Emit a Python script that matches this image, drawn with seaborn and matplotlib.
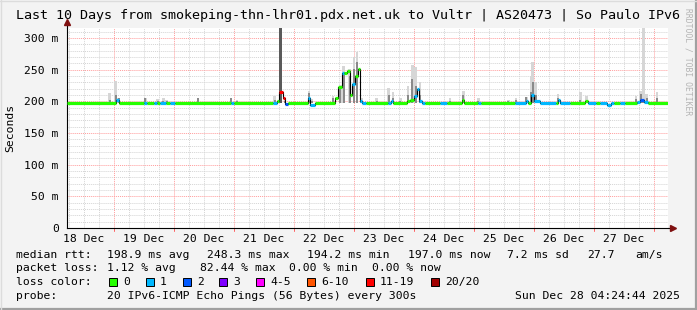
import numpy as np
import pandas as pd
import matplotlib
matplotlib.use("Agg")
import matplotlib.pyplot as plt
import matplotlib.transforms as mtransforms
from matplotlib.patches import Rectangle
from matplotlib.lines import Line2D
import seaborn as sns

# ---------------- data ----------------
title = "Last 10 Days from smokeping-thn-lhr01.pdx.net.uk to Vultr | AS20473 | So Paulo IPv6"
start_day, end_day = 18.217, 28.233          # time axis in "day of December"
day_labels = ["18 Dec", "19 Dec", "20 Dec", "21 Dec", "22 Dec",
              "23 Dec", "24 Dec", "25 Dec", "26 Dec", "27 Dec"]
label_days = [18.5, 19.5, 20.5, 21.5, 22.5, 23.5, 24.5, 25.5, 26.5, 27.5]
y_ticks = [0, 50, 100, 150, 200, 250, 300]
y_labels = ["0", "50 m", "100 m", "150 m", "200 m", "250 m", "300 m"]
base_rtt = 198

# smoke columns: time, max of pings (ms), upper-quartile-ish (ms)
smoke_t = [18.93, 19.03, 19.08, 19.52, 19.73, 19.82, 19.88, 20.40, 20.95, 21.05,
           21.68, 21.77, 21.85, 22.25, 22.30, 22.65, 22.77, 22.83, 22.93, 23.00,
           23.05, 23.12, 23.38, 23.58, 23.65, 23.77, 23.90, 23.97, 24.03, 24.10,
           24.60, 24.82, 25.07, 25.57, 25.70, 25.87, 25.95, 25.98, 26.03, 26.40,
           26.77, 26.87, 27.70, 27.78, 27.82, 27.88, 28.05]
smoke_hi = [214, 233, 205, 206, 204, 205, 203, 206, 206, 203,
            209, 316, 206, 216, 204, 209, 226, 256, 252, 270,
            278, 206, 206, 221, 215, 206, 225, 258, 255, 230,
            206, 216, 205, 203, 206, 207, 240, 262, 230, 212,
            215, 208, 209, 216, 316, 212, 215]
smoke_mid = [203, 210, 205, 206, 200, 200, 200, 206, 206, 200,
             203, 316, 200, 214, 200, 205, 220, 247, 240, 252,
             262, 200, 200, 210, 205, 200, 210, 235, 225, 210,
             200, 210, 200, 200, 202, 207, 215, 230, 210, 206,
             202, 200, 204, 212, 200, 206, 205]

# median rtt: step start time, value (ms), loss category index
med_t = [18.217, 19.03, 19.08, 19.50, 19.55, 19.67, 19.72, 19.77, 19.87, 19.93,
         20.02, 20.95, 21.00, 21.65, 21.72, 21.75, 21.82, 21.85, 21.90, 22.23,
         22.27, 22.35, 22.68, 22.73, 22.80, 22.83, 22.88, 22.93, 22.97, 23.02,
         23.07, 23.10, 23.13, 23.20, 23.57, 23.62, 23.65, 23.88, 23.93, 24.00,
         24.05, 24.08, 24.13, 24.18, 24.43, 24.55, 24.80, 24.83, 25.07, 25.12,
         25.68, 25.87, 25.90, 25.95, 26.00, 26.10, 26.37, 26.40, 26.43, 26.60,
         26.85, 26.90, 27.03, 27.10, 27.22, 27.28, 27.33, 27.43, 27.52, 27.72,
         27.77, 27.83, 27.90]
med_v = [198, 203, 198, 198, 198, 198, 198, 198, 198, 198,
         198, 198, 198, 198, 200, 215, 205, 196, 198, 205,
         195, 198, 205, 222, 245, 245, 248, 210, 228, 240,
         252, 200, 198, 198, 198, 201, 198, 200, 203, 208,
         219, 200, 198, 198, 198, 198, 203, 198, 198, 198,
         198, 201, 198, 210, 200, 198, 198, 203, 198, 198,
         200, 198, 198, 198, 194, 198, 198, 198, 198, 199,
         202, 199, 198]
med_loss = [0, 1, 0, 1, 0, 1, 0, 1, 0, 1,
            0, 1, 0, 1, 0, 6, 6, 2, 0, 1,
            1, 0, 0, 0, 1, 0, 0, 0, 1, 0,
            0, 1, 1, 0, 1, 1, 0, 0, 0, 1,
            1, 1, 1, 0, 1, 0, 0, 0, 1, 0,
            1, 1, 0, 1, 1, 1, 0, 1, 1, 0,
            0, 1, 0, 1, 1, 1, 0, 1, 0, 1,
            2, 1, 0]

loss_labels = ["0", "1", "2", "3", "4-5", "6-10", "11-19", "20/20"]
loss_colors = ["#26ff00", "#00b8ff", "#0059ff", "#7e00ff",
               "#ff00ff", "#ff5500", "#ff0000", "#a10000"]

rtt_row = ["median rtt:", "198.9 ms avg", "248.3 ms max", "194.2 ms min",
           "197.0 ms now", "7.2 ms sd", "27.7", "am/s"]
loss_row = ["packet loss:", "1.12 % avg", "82.44 % max", "0.00 % min", "0.00 % now"]
probe_row = ["probe:", "20 IPv6-ICMP Echo Pings (56 Bytes) every 300s"]
stamp = "Sun Dec 28 04:24:44 2025"

# ---------------- style ----------------
W, H = 697, 310
sns.set_theme(style="white")
plt.rcParams["font.family"] = ["DejaVu Sans Mono", "DejaVu Sans"]
BG = "#f3f3f3"
FS = 8.2

fig = plt.figure(figsize=(W / 100, H / 100), dpi=100, facecolor=BG)

def fx(x):
    return x / W

def fy(y):
    return 1 - y / H

# frame shading of the png
fig.add_artist(Line2D([fx(696), fx(696)], [0, 1], color="#a0a0a0", lw=1.6))
fig.add_artist(Line2D([0, 1], [fy(309), fy(309)], color="#a0a0a0", lw=1.6))
fig.add_artist(Line2D([0, 1], [fy(0.5), fy(0.5)], color="#dcdcdc", lw=1.0))
fig.add_artist(Line2D([fx(0.5), fx(0.5)], [0, 1], color="#dcdcdc", lw=1.0))

ax = fig.add_axes([fx(67), fy(228), (668 - 67) / W, 200 / H])
ax.set_facecolor("white")
ax.set_xlim(start_day, end_day)
ax.set_ylim(0, 316)

# grid
minor_x = np.arange(18.25, end_day, 0.25)
for d in minor_x:
    if abs(d - round(d)) > 1e-6:
        ax.axvline(d, color="#d4d4d4", lw=0.7, ls=(0, (1, 1)), zorder=0)
for v in range(10, 316, 10):
    if v % 50:
        ax.axhline(v, color="#d4d4d4", lw=0.7, ls=(0, (1, 1)), zorder=0)
for d in range(19, 29):
    ax.axvline(d, color="#ff9c9c", lw=0.7, ls=(0, (1, 1)), zorder=0.5)
for v in range(50, 316, 50):
    ax.axhline(v, color="#ff9c9c", lw=0.7, ls=(0, (1, 1)), zorder=0.5)

# smoke
smoke = pd.DataFrame({"t": smoke_t, "hi": smoke_hi, "mid": smoke_mid})
ax.bar(smoke["t"], smoke["hi"] - base_rtt, bottom=base_rtt, width=0.045,
       color="#d6d6d6", linewidth=0, zorder=1)
ax.bar(smoke["t"], smoke["mid"] - base_rtt, bottom=base_rtt, width=0.035,
       color="#8a8a8a", linewidth=0, zorder=1.2)
big = smoke[smoke["mid"] >= 300]
ax.bar(big["t"], big["mid"] - base_rtt, bottom=base_rtt, width=0.05,
       color="#5a5a5a", linewidth=0, zorder=1.3)

# median rtt line
med = pd.DataFrame({"t": med_t + [end_day], "v": med_v + [med_v[-1]]})
sns.lineplot(data=med, x="t", y="v", drawstyle="steps-post", color="black",
             lw=0.8, ax=ax, zorder=2, legend=False)
t_next = med_t[1:] + [end_day]
ax.hlines(med_v, med_t, t_next, colors=[loss_colors[i] for i in med_loss],
          lw=2.3, zorder=3)
ax.set_xlabel("")
ax.set_ylabel("")

# axes, ticks
for s in ["top", "right"]:
    ax.spines[s].set_visible(False)
for s in ["left", "bottom"]:
    ax.spines[s].set_color("black")
    ax.spines[s].set_linewidth(0.8)
ax.set_yticks(y_ticks)
ax.set_yticklabels(y_labels, fontsize=FS)
ax.set_xticks(label_days)
ax.set_xticklabels(day_labels, fontsize=FS)
ax.tick_params(axis="x", length=0, pad=4, colors="black")
ax.tick_params(axis="y", length=3, width=0.7, pad=3, colors="black", direction="out")
ax.tick_params(axis="both", labelcolor="black")

trans = mtransforms.blended_transform_factory(ax.transData, ax.transAxes)
for d in range(19, 29):
    ax.add_line(Line2D([d, d], [0, -0.015], transform=trans, color="#ff6060",
                       lw=0.7, clip_on=False))
# arrows
ax.add_line(Line2D([0, 0], [1.0, 1.03], transform=ax.transAxes, color="black",
                   lw=0.8, clip_on=False))
ax.add_line(Line2D([1.0, 1.008], [0, 0], transform=ax.transAxes, color="black",
                   lw=0.8, clip_on=False))
ax.plot([0], [1.03], marker="^", ms=5, color="#7f1010", transform=ax.transAxes,
        clip_on=False)
ax.plot([1.008], [0], marker=">", ms=5, color="#7f1010", transform=ax.transAxes,
        clip_on=False)

# texts
fig.text(0.5, fy(16), title, ha="center", va="center", fontsize=9.6, color="black")
fig.text(fx(10), fy(128), "Seconds", rotation=90, ha="center", va="center",
         fontsize=FS, color="black")
fig.text(fx(688), fy(62), "RRDTOOL / TOBI OETIKER", rotation=270, ha="center",
         va="center", fontsize=5.8, color="#b4b4b4")

for x, s in zip([16, 107, 207, 307, 408, 507, 587, 635], rtt_row):
    fig.text(fx(x), fy(255), s, ha="left", va="center", fontsize=FS, color="black")
for x, s in zip([16, 107, 200, 289, 372], loss_row):
    fig.text(fx(x), fy(268), s, ha="left", va="center", fontsize=FS, color="black")
fig.text(fx(16), fy(282), "loss color:", ha="left", va="center", fontsize=FS,
         color="black")
box_x = [109, 146, 183, 219, 256, 307, 366, 431]
for bx, lab, col in zip(box_x, loss_labels, loss_colors):
    fig.add_artist(Rectangle((fx(bx), fy(286)), 8 / W, 8 / H, facecolor=col,
                             edgecolor="black", lw=0.7, transform=fig.transFigure))
    fig.text(fx(bx + 14), fy(282), lab, ha="left", va="center", fontsize=FS,
             color="black")
fig.text(fx(16), fy(296), probe_row[0], ha="left", va="center", fontsize=FS,
         color="black")
fig.text(fx(107), fy(296), probe_row[1], ha="left", va="center", fontsize=FS,
         color="black")
fig.text(fx(680), fy(296), stamp, ha="right", va="center", fontsize=FS, color="black")

fig.savefig("out.png", dpi=100, facecolor=BG)
